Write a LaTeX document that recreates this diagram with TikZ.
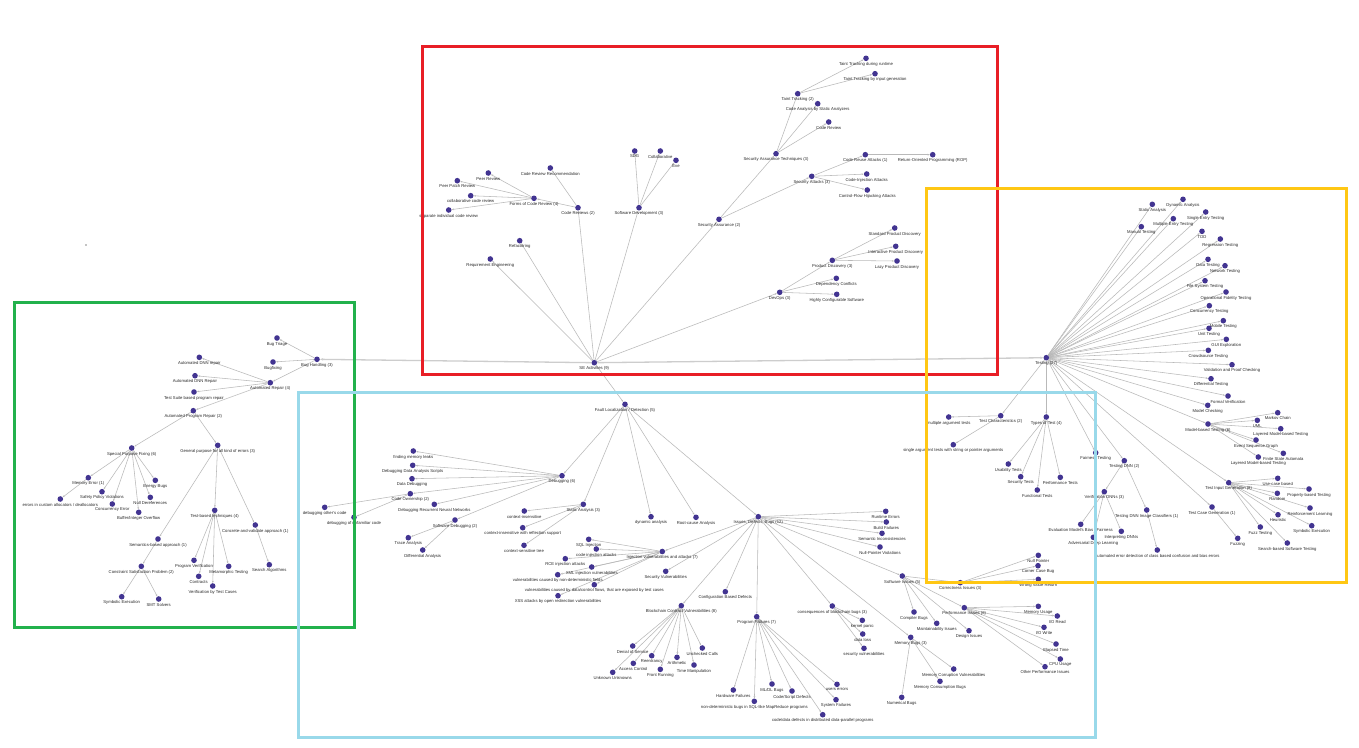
\documentclass[tikz,border=0pt]{standalone}
\usepackage{fontspec}
\setmainfont{Liberation Sans}
\usetikzlibrary{arrows.meta,backgrounds}
\definecolor{dotc}{RGB}{66,52,145}
\definecolor{edgec}{RGB}{185,185,185}
\definecolor{longc}{RGB}{205,205,205}
\definecolor{lblc}{RGB}{40,40,40}
\definecolor{frred}{RGB}{232,30,38}
\definecolor{frgreen}{RGB}{34,177,76}
\definecolor{fryellow}{RGB}{255,199,20}
\definecolor{frblue}{RGB}{153,217,234}
\tikzset{
  dot/.style={circle,fill=dotc,draw=none,inner sep=0pt,minimum size=5.6pt},
  lbl/.style={font=\fontsize{4.2}{4.6}\selectfont,text=lblc,inner sep=0.3pt,label distance=0.5pt},
  edge/.style={draw=edgec,line width=0.55pt,-{Stealth[length=2.2pt,width=1.7pt]}},
  longedge/.style={draw=longc,line width=1.3pt,-{Stealth[length=3pt,width=2.4pt]}},
  frame/.style={line width=3pt}
}
\newcommand\mknode[4]{\node[dot,label={[lbl]below:{#4}}] (#1) at (#2,#3) {};}
\newcommand\mkedges[2]{\foreach \c in {#2} {\draw[edge] (#1) -- (\c);}}
\begin{document}
\begin{tikzpicture}[x=1pt,y=-1pt]
\useasboundingbox (0,0) rectangle (1359,747);
\begin{scope}[on background layer]
\fill[white] (0,0) rectangle (1359,747);
\end{scope}

% ---------- SE activities ----------
\mknode{se}{594.3}{362.7}{SE Activities (9)}
\mknode{re}{490.3}{259}{Requirement Engineering}
\mknode{refac}{519.7}{240.7}{Refactoring}
\mknode{cr}{578}{207.7}{Code Reviews (2)}
\mknode{crr}{550.3}{168}{Code Review Recommendation}
\mknode{fcr}{534}{198.3}{Forms of Code Review (4)}
\mknode{pr}{488.3}{173}{Peer Review}
\mknode{ppr}{457.3}{180.7}{Peer Patch Review}
\mknode{ccr}{470.7}{195.7}{collaborative code review}
\mknode{sicr}{448.7}{210}{separate individual code review}
\mknode{sd}{639}{207.7}{Software Development (3)}
\mknode{sdg}{634.7}{151}{SDG}
\mknode{collab}{660.3}{151}{Collaborative}
\mknode{eve}{676}{160.3}{Eve}
\mknode{sa}{719}{219.3}{Security Assurance (2)}
\mknode{sat}{776}{153.7}{Security Assurance Techniques (3)}
\mknode{tt}{797.7}{93.7}{Taint Tracking (2)}
\mknode{ttr}{866}{58.3}{Taint Tracking during runtime}
\mknode{tti}{875}{73.7}{Taint Tracking by input generation}
\mknode{casa}{817.7}{103.7}{Code Analysis by Static Analyzers}
\mknode{crev}{828.7}{122}{Code Review}
\mknode{satk}{811.7}{176.3}{Security Attacks (3)}
\mknode{cra}{865.3}{154.7}{Code Reuse Attacks (1)}
\mknode{rop}{932.7}{154.7}{Return-Oriented Programming (ROP)}
\mknode{cia}{866.7}{174}{Code-Injection Attacks}
\mknode{cfh}{867.3}{190}{Control-Flow Hijacking Attacks}
\mknode{devops}{779.7}{292.3}{DevOps (3)}
\mknode{pd}{832.3}{260.3}{Product Discovery (3)}
\mknode{spd}{894.7}{228}{Standard Product Discovery}
\mknode{ipd}{895.7}{246.3}{Interactive Product Discovery}
\mknode{lpd}{897}{261}{Lazy Product Discovery}
\mknode{dc}{836.3}{278.3}{Dependency Conflicts}
\mknode{hcs}{836.7}{294.3}{Highly Configurable Software}

% ---------- bug handling ----------
\mknode{bh}{317}{359.3}{Bug Handling (3)}
\mknode{btri}{277}{338}{Bug Triage}
\mknode{bfix}{273}{362}{Bugfixing}
\mknode{ar}{270.3}{382.7}{Automated Repair (4)}
\mknode{adnnA}{199.3}{357.3}{Automated DNN repair}
\mknode{adnnB}{195}{375.7}{Automated DNN Repair}
\mknode{tsbr}{194}{392}{Test Suite based program repair}
\mknode{apr}{193.3}{410.7}{Automated Program Repair (2)}
\mknode{spf}{131.7}{448}{Special Purpose Fixing (6)}
\mknode{gp}{217.7}{445.3}{General purpose for all kind of errors (3)}
\mknode{merr}{88.3}{477.7}{Memory Error (1)}
\mknode{eca}{60.3}{499}{errors in custom allocators / deallocators}
\mknode{spv}{102}{491.7}{Safety Policy Violations}
\mknode{ce}{112.3}{504}{Concurrency Error}
\mknode{bio}{138.7}{512.3}{Buffer/Integer Overflow}
\mknode{ndr}{150.3}{497.3}{Null Dereferences}
\mknode{eb}{155.3}{480.3}{Energy Bugs}
\mknode{tbt}{214.7}{510.3}{Test-based techniques (4)}
\mknode{cva}{255.3}{525}{Concrete-and-validate approach (1)}
\mknode{salg}{269.3}{564.7}{Search Algorithms}
\mknode{sba}{158}{539}{Semantics-based approach (1)}
\mknode{csp}{141.3}{566.3}{Constraint Satisfaction Problem (2)}
\mknode{symex}{121.7}{596.7}{Symbolic Execution}
\mknode{smt}{158.7}{599}{SMT Solvers}
\mknode{pver}{194}{560.3}{Program Verification}
\mknode{contr}{198.7}{576.3}{Contracts}
\mknode{vtc}{212.7}{586}{Verification by Test Cases}
\mknode{mt}{228.7}{566.3}{Metamorphic Testing}

% ---------- testing ----------
\mknode{test}{1046.3}{357.7}{Testing (27)}
\mknode{stan}{1152.3}{204.3}{Static Analysis}
\mknode{dyn}{1183}{199.3}{Dynamic Analysis}
\mknode{set}{1205.7}{212}{Single Entry Testing}
\mknode{met}{1173.3}{218.7}{Multiple Entry Testing}
\mknode{man}{1141.3}{226.7}{Manual Testing}
\mknode{tdd}{1202}{231.3}{TDD}
\mknode{reg}{1220.3}{239}{Regression Testing}
\mknode{dat}{1208}{259.3}{Data Testing}
\mknode{net}{1225}{265.7}{Network Testing}
\mknode{fst}{1205}{280.7}{File System Testing}
\mknode{oft}{1226}{292}{Operational Fidelity Testing}
\mknode{cct}{1209.3}{305.7}{Concurrency Testing}
\mknode{mob}{1223.3}{320.7}{Mobile Testing}
\mknode{unit}{1209}{328.3}{Unit Testing}
\mknode{gui}{1226.3}{339.3}{GUI Exploration}
\mknode{crowd}{1208.3}{350.3}{Crowdsource Testing}
\mknode{vpc}{1232}{364.7}{Validation and Proof Checking}
\mknode{diff}{1211}{378.7}{Differential Testing}
\mknode{fv}{1228}{396}{Formal Verification}
\mknode{mc}{1207.7}{405.3}{Model Checking}
\mknode{mbt}{1208}{424}{Model-based Testing (6)}
\mknode{mkc}{1277.7}{412.7}{Markov Chain}
\mknode{uml}{1257.3}{420.3}{UML}
\mknode{lmbtA}{1280.7}{428.7}{Layered Model-based Testing}
\mknode{esg}{1256}{440}{Event Sequence Graph}
\mknode{fsa}{1283.3}{453.3}{Finite State Automata}
\mknode{lmbtB}{1258.3}{457}{Layered Model-based Testing}
\mknode{tig}{1228.7}{482.7}{Test Input Generation (8)}
\mknode{ucb}{1277.7}{478.3}{Use-case based}
\mknode{rnd}{1277.3}{493.3}{Random}
\mknode{pbt}{1309}{489}{Property-based Testing}
\mknode{rl}{1310}{508}{Reinforcement Learning}
\mknode{heu}{1278}{514.7}{Heuristic}
\mknode{tsymex}{1311.7}{525.7}{Symbolic Execution}
\mknode{fuzzt}{1260.3}{527}{Fuzz Testing}
\mknode{sbst}{1287.3}{543}{Search-based Software Testing}
\mknode{tcg}{1212}{507}{Test Case Generation (1)}
\mknode{fuzzing}{1237.7}{538.3}{Fuzzing}
\mknode{tch}{1000.7}{415.7}{Test Characteristics (2)}
\mknode{mat}{948.7}{417}{multiple argument tests}
\mknode{sargt}{953.3}{444.7}{single argument tests with string or pointer arguments}
\mknode{tot}{1046.3}{417}{Types of Test (4)}
\mknode{ust}{1008.3}{464}{Usability Tests}
\mknode{sect}{1020.7}{476.7}{Security Tests}
\mknode{fnt}{1037.3}{490}{Functional Tests}
\mknode{pft}{1060.3}{477.3}{Performance Tests}
\mknode{fair}{1095.7}{452.7}{Fairness Testing}
\mknode{tdnn}{1124.3}{460.7}{Testing DNN (2)}
\mknode{vdnn}{1104.3}{491.7}{Verification DNNs (3)}
\mknode{embf}{1080.7}{524.3}{Evaluation Model's Bias / Fairness}
\mknode{adl}{1093.3}{537.3}{Adversarial Deep Learning}
\mknode{idnn}{1121.3}{531.3}{Interpreting DNNs}
\mknode{tdic}{1146.7}{510}{Testing DNN Image Classifiers (1)}
\mknode{aed}{1157.3}{550}{automated error detection of class based confusion and bias errors}

% ---------- fault localization / detection ----------
\mknode{fld}{625}{404.3}{Fault Localization / Detection (5)}
\mknode{dbg}{562}{475.7}{Debugging (6)}
\mknode{fml}{413.3}{451}{finding memory leaks}
\mknode{ddas}{412.7}{465.3}{Debugging Data Analysis Scripts}
\mknode{ddbg}{412}{478.7}{Data Debugging}
\mknode{cown}{410.3}{493.7}{Code Ownership (2)}
\mknode{doc}{324.7}{507.3}{debugging other's code}
\mknode{duc}{354}{517.3}{debugging of unfamiliar code}
\mknode{drnn}{434.3}{504.3}{Debugging Recurrent Neural Networks}
\mknode{swd}{455}{520}{Software Debugging (2)}
\mknode{tra}{408.3}{537.7}{Trace Analysis}
\mknode{dfa}{422.7}{550}{Differential Analysis}
\mknode{stat}{583.3}{504.3}{Static Analysis (3)}
\mknode{csA}{524.3}{511}{context-insensitive}
\mknode{csB}{522.7}{527.7}{context-insensitive with reflection support}
\mknode{csC}{524}{545.3}{context-sensitive tree}
\mknode{dyna}{651}{516.7}{dynamic analysis}
\mknode{rca}{696}{517.3}{Root-cause Analysis}
\mknode{idb}{758.3}{516.7}{Issues, Defects, Bugs (12)}
\mknode{inj}{662.3}{551.5}{Injection vulnerabilities and attacks (7)}
\mknode{sqli}{588.7}{539.3}{SQL Injection}
\mknode{cinj}{596.3}{549}{code injection attacks}
\mknode{rce}{565.3}{558.7}{RCE injection attacks}
\mknode{xml}{591.7}{567}{XML injection vulnerabilities}
\mknode{vnd}{557.7}{574.7}{vulnerabilities caused by non-deterministic fields}
\mknode{vdf}{594.3}{584.7}{vulnerabilities caused by data/control flows, that are exposed by test cases}
\mknode{xss}{558}{595.7}{XSS attacks by open redirection vulnerabilities}
\mknode{secv}{665.7}{571.3}{Security Vulnerabilities}
\mknode{bcv}{681.3}{605.7}{Blockchain Contract Vulnerabilities (8)}
\mknode{dos}{632.7}{646}{Denial of Service}
\mknode{reen}{651.7}{655.7}{Reentrancy}
\mknode{acc}{633.3}{663.3}{Access Control}
\mknode{unk}{612.7}{672.3}{Unknown Unknowns}
\mknode{fr}{660.3}{669.3}{Front Running}
\mknode{arith}{677}{657.3}{Arithmetic}
\mknode{tman}{694}{665}{Time Manipulation}
\mknode{uc}{702.3}{648}{Unchecked Calls}
\mknode{rte}{885.7}{511.3}{Runtime Errors}
\mknode{bf}{886.3}{522}{Build Failures}
\mknode{si}{882}{533.3}{Semantic Inconsistencies}
\mknode{npv}{880}{547}{Null-Pointer Violations}
\mknode{swi}{902.3}{576}{Software Issues (5)}
\mknode{cbd}{725.3}{591.7}{Configuration Based Defects}
\mknode{pf}{756.7}{616.7}{Program Failures (7)}
\mknode{hf}{733.3}{690}{Hardware Failures}
\mknode{ndb}{754.3}{701.3}{non-deterministic bugs in SQL-like MapReduce programs}
\mknode{mldl}{772}{684}{ML/DL Bugs}
\mknode{csd}{792}{691}{Code/Script Defects}
\mknode{cdd}{822.7}{714.7}{code/data defects in distributed data-parallel programs}
\mknode{ue}{837}{684.3}{users errors}
\mknode{sf}{836}{699.7}{System Failures}
\mknode{cbb}{832.3}{606}{consequences of blockchain bugs (3)}
\mknode{kp}{862.3}{620.3}{kernel panic}
\mknode{dl}{862.7}{634}{data loss}
\mknode{svul}{864}{648.3}{security vulnerabilities}
\mknode{corr}{960.3}{582.7}{Correctness Issues (3)}
\mknode{np}{1038.3}{555.3}{Null Pointer}
\mknode{ccb}{1038}{565.7}{Corner Case Bug}
\mknode{wvr}{1038.3}{579.3}{Wrong Value Return}
\mknode{comp}{914}{612}{Compiler Bugs}
\mknode{maint}{936.7}{623.3}{Maintainability Issues}
\mknode{des}{969}{630.7}{Design Issues}
\mknode{perf}{964.3}{607.7}{Performance Issues (6)}
\mknode{mu}{1038.3}{606.3}{Memory Usage}
\mknode{ior}{1057.3}{616}{I/O Read}
\mknode{iow}{1044}{627.3}{I/O Write}
\mknode{et}{1056}{644}{Elapsed Time}
\mknode{cpu}{1060.3}{659}{CPU Usage}
\mknode{opi}{1045}{666.7}{Other Performance Issues}
\mknode{mb}{910.7}{637.3}{Memory Bugs (3)}
\mknode{mcv}{953.7}{669}{Memory Corruption Vulnerabilities}
\mknode{mcb}{940}{681.3}{Memory Consumption Bugs}
\mknode{numb}{901.7}{697.3}{Numerical Bugs}

% stray mark at the left margin
\fill[black] (86,245) circle (0.6);

% ---------- connectors ----------
\begin{scope}[on background layer]
\draw[longedge] (se) -- (test);
\draw[longedge] (se) -- (bh);
\mkedges{se}{re,refac,cr,sd,sa,devops,fld}
\mkedges{cr}{crr,fcr}
\mkedges{fcr}{pr,ppr,ccr,sicr}
\mkedges{sd}{sdg,collab,eve}
\mkedges{sa}{sat,satk}
\mkedges{sat}{tt,casa,crev}
\mkedges{tt}{ttr,tti}
\mkedges{satk}{cra,cia,cfh}
\mkedges{cra}{rop}
\mkedges{devops}{pd,dc,hcs}
\mkedges{pd}{spd,ipd,lpd}
\mkedges{bh}{btri,bfix,ar}
\mkedges{ar}{adnnA,adnnB,tsbr,apr}
\mkedges{apr}{spf,gp}
\mkedges{spf}{merr,spv,ce,bio,ndr,eb}
\mkedges{merr}{eca}
\mkedges{gp}{tbt,cva,sba}
\mkedges{cva}{salg}
\mkedges{sba}{csp}
\mkedges{csp}{symex,smt}
\mkedges{tbt}{pver,contr,vtc,mt}
\mkedges{test}{stan,dyn,set,met,man,tdd,reg,dat,net,fst,oft,cct,mob,unit,gui,crowd,vpc,diff,fv,mc,mbt,tig,tcg,tch,tot,fair,tdnn}
\mkedges{mbt}{mkc,uml,lmbtA,esg,fsa,lmbtB}
\mkedges{tig}{ucb,rnd,pbt,rl,heu,tsymex,fuzzt,sbst}
\mkedges{tcg}{fuzzing}
\mkedges{tch}{mat,sargt}
\mkedges{tot}{ust,sect,fnt,pft}
\mkedges{tdnn}{vdnn,tdic}
\mkedges{vdnn}{embf,adl,idnn}
\mkedges{tdic}{aed}
\mkedges{fld}{dbg,stat,dyna,rca,idb}
\mkedges{dbg}{fml,ddas,ddbg,cown,drnn,swd}
\mkedges{cown}{doc,duc}
\mkedges{swd}{tra,dfa}
\mkedges{stat}{csA,csB,csC}
\mkedges{idb}{inj,secv,bcv,rte,bf,si,npv,swi,cbd,pf,cbb,mb}
\mkedges{inj}{sqli,cinj,rce,xml,vnd,vdf,xss}
\mkedges{bcv}{dos,reen,acc,unk,fr,arith,tman,uc}
\mkedges{pf}{hf,ndb,mldl,csd,cdd,ue,sf}
\mkedges{cbb}{kp,dl,svul}
\mkedges{swi}{corr,comp,maint,des,perf}
\mkedges{corr}{np,ccb,wvr}
\mkedges{perf}{mu,ior,iow,et,cpu,opi}
\mkedges{mb}{mcv,mcb,numb}
\end{scope}

% ---------- group frames ----------
\draw[frame,frred] (422.5,46.5) rectangle (997.5,374);
\draw[frame,frgreen] (14.5,302.5) rectangle (354.5,627.5);
\draw[frame,fryellow] (926,188.5) rectangle (1346.5,582.5);
\draw[frame,frblue] (298.5,392.5) rectangle (1095.5,737.5);
\end{tikzpicture}
\end{document}
